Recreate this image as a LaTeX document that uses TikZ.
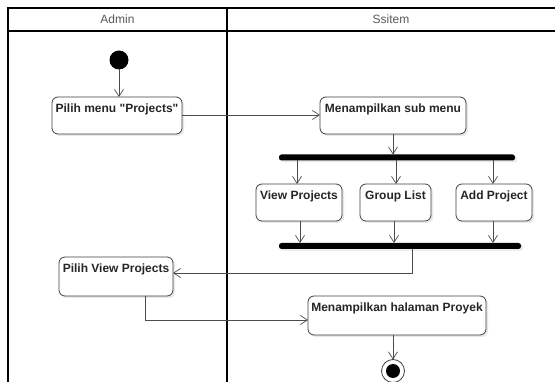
\documentclass[tikz,border=0pt]{standalone}
\usepackage{fontspec}
\setmainfont{Liberation Sans}[Ligatures=TeXOff]
\usetikzlibrary{arrows.meta,shadows}
\begin{document}
\begin{tikzpicture}[x=1pt,y=-1pt,
  lane/.style={draw=black,line width=1.4pt},
  act/.style={draw=black!75,line width=0.8pt,rounded corners=6pt,fill=white,
    drop shadow={opacity=0.18,shadow xshift=2pt,shadow yshift=-2pt}},
  lbl/.style={font=\bfseries\fontsize{12}{14}\selectfont,text=black!85,inner sep=0pt,anchor=north},
  flow/.style={draw=black!70,line width=0.7pt,-{Straight Barb[length=7pt,width=9pt]}},
  bar/.style={fill=black,draw=none,rounded corners=2.5pt,
    drop shadow={opacity=0.15,shadow xshift=2pt,shadow yshift=-2pt}},
  head/.style={font=\fontsize{12}{14}\selectfont,text=black!65}]
\useasboundingbox (0,0) rectangle (555,382);
\fill[white] (0,0) rectangle (555,382);

% swimlanes
\draw[lane] (8,382) -- (8,8) -- (556,8);
\draw[lane] (8,31) -- (556,31);
\draw[lane] (227,8) -- (227,382);
\node[head] (hA) at (117.5,19.5) {Admin};
\node[head] (hS) at (391,19.5) {Ssitem};

% start
\fill[black] (119,60) circle (9.5);
\coordinate (start) at (119,69.5);

% activities
\draw[act] (52,97) rectangle (182,134);
\node[lbl] (a1) at (117,104) {Pilih menu "Projects"};
\coordinate (a1s) at (119,97);
\coordinate (a1e) at (182,115);

\draw[act] (320,97) rectangle (466,134);
\node[lbl] (s1) at (393,104) {Menampilkan sub menu};
\coordinate (s1w) at (320,115);
\coordinate (s1s) at (393,134);

% fork
\fill[bar] (279,154.5) rectangle (515,160.5);
\coordinate (f1) at (393,154.5);

\draw[act] (256,184) rectangle (342,221);
\node[lbl] (v1) at (299,191) {View Projects};
\draw[act] (360,184) rectangle (431,221);
\node[lbl] (g1) at (395.5,191) {Group List};
\draw[act] (456,184) rectangle (532,221);
\node[lbl] (p1) at (494,191) {Add Project};

% join
\fill[bar] (279,243) rectangle (521,249);

\draw[act] (59,257) rectangle (173,296);
\node[lbl] (a2) at (116,264) {Pilih View Projects};

\draw[act] (308,296) rectangle (486,335);
\node[lbl] (s2) at (397,303) {Menampilkan halaman Proyek};

% end
\draw[black!75,line width=0.8pt,fill=white] (393,371) circle (11.5);
\fill[black] (393,371) circle (7);

% flows
\draw[flow] (start) -- (a1s);
\draw[flow] (a1e) -- (s1w);
\draw[flow] (s1s) -- (f1);
\draw[flow] (297,160.5) -- (297,184);
\draw[flow] (396,160.5) -- (396,184);
\draw[flow] (493,160.5) -- (493,184);
\draw[flow] (300,221) -- (300,243);
\draw[flow] (394,221) -- (394,243);
\draw[flow] (493,221) -- (493,243);
\draw[flow] (412,249) -- (412,273) -- (173,273);
\draw[flow] (145,296) -- (145,320) -- (308,320);
\draw[flow] (393,335) -- (393,359.5);
\end{tikzpicture}
\end{document}
